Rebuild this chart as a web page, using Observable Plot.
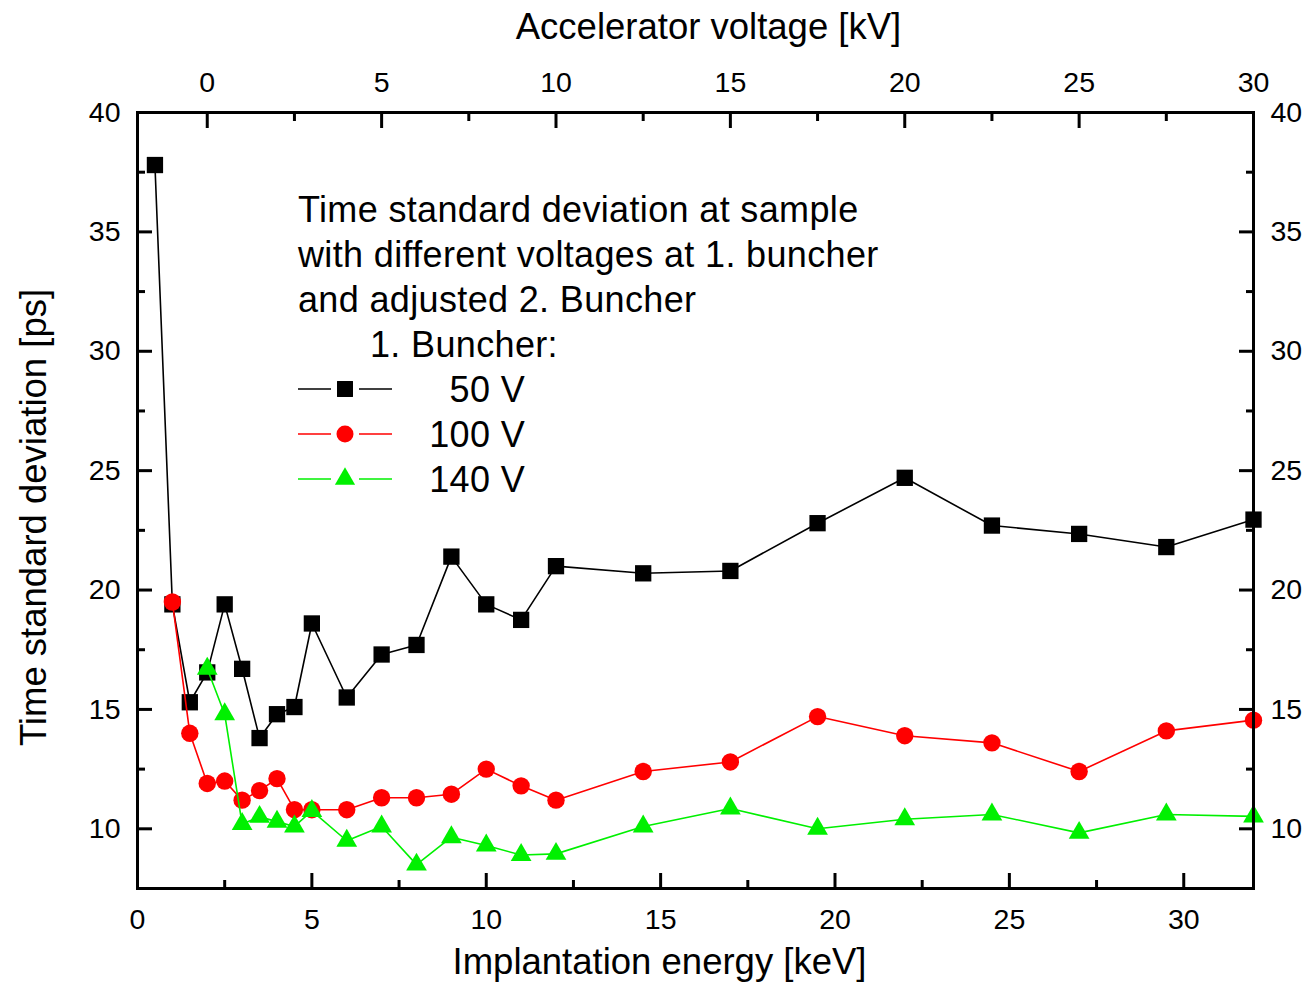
<!DOCTYPE html>
<html>
<head>
<meta charset="utf-8">
<script src="https://cdn.jsdelivr.net/npm/d3@7"></script>
<script src="https://cdn.jsdelivr.net/npm/@observablehq/plot@0.6"></script>
<style>
  html, body { margin: 0; padding: 0; background: #fff; }
  #chart svg { display: block; }
</style>
</head>
<body>
<div id="chart"></div>
<script>
// ---- Data ----
const energy50  = [0.5, 1, 1.5, 2, 2.5, 3, 3.5, 4, 4.5, 5, 6, 7, 8, 9, 10, 11, 12, 14.5, 17, 19.5, 22, 24.5, 27, 29.5, 32];
const sigma50   = [37.8, 19.4, 15.3, 16.55, 19.4, 16.7, 13.8, 14.8, 15.1, 18.6, 15.5, 17.3, 17.7, 21.4, 19.4, 18.75, 21.0, 20.7, 20.8, 22.8, 24.7, 22.7, 22.35, 21.8, 22.95];
const energy100 = [1, 1.5, 2, 2.5, 3, 3.5, 4, 4.5, 5, 6, 7, 8, 9, 10, 11, 12, 14.5, 17, 19.5, 22, 24.5, 27, 29.5, 32];
const sigma100  = [19.5, 14.0, 11.9, 12.0, 11.2, 11.6, 12.1, 10.8, 10.8, 10.8, 11.3, 11.3, 11.45, 12.5, 11.8, 11.2, 12.4, 12.8, 14.7, 13.9, 13.6, 12.4, 14.1, 14.55];
const energy140 = [2, 2.5, 3, 3.5, 4, 4.5, 5, 6, 7, 8, 9, 10, 11, 12, 14.5, 17, 19.5, 22, 24.5, 27, 29.5, 32];
const sigma140  = [16.7, 14.8, 10.2, 10.5, 10.3, 10.1, 10.75, 9.5, 10.1, 8.5, 9.65, 9.3, 8.9, 8.95, 10.1, 10.85, 10.0, 10.4, 10.6, 9.83, 10.6, 10.52];

const seriesLabels = ["50 V", "100 V", "140 V"];
const seriesColors = ["#000000", "#ff0000", "#00f000"];
const seriesSymbols = ["square", "circle", "triangle"];

const xMajorTicks = [0, 5, 10, 15, 20, 25, 30];
const xMinorTicks = [2.5, 7.5, 12.5, 17.5, 22.5, 27.5];
const voltageMajorTicks = [0, 5, 10, 15, 20, 25, 30];          // kV (top axis)
const voltageMinorTicks = [2.5, 7.5, 12.5, 17.5, 22.5, 27.5];  // kV
const voltageOffset = 2; // implantation energy [keV] = accelerator voltage [kV] + 2
const yMajorTicks = [10, 15, 20, 25, 30, 35, 40];
const yMinorTicks = [12.5, 17.5, 22.5, 27.5, 32.5, 37.5];

const xTitle = "Implantation energy [keV]";
const x2Title = "Accelerator voltage [kV]";
const yTitle = "Time standard deviation [ps]";
const legendTitle = ["Time standard deviation at sample", "with different voltages at 1. buncher", "and adjusted 2. Buncher"];
const legendHeader = "1. Buncher:";

// ---- Build tables ----
const toRows = (xs, ys) => xs.map((e, i) => ({e, s: ys[i]}));
const d50 = toRows(energy50, sigma50);
const d100 = toRows(energy100, sigma100);
const d140 = toRows(energy140, sigma140);

const FONT = "'Liberation Sans', Arial, Helvetica, sans-serif";
const blank = () => "";
const TITLE_SIZE = 36.5;

const chart = Plot.plot({
  width: 1305,
  height: 982,
  marginLeft: 137,
  marginRight: 52,
  marginTop: 112,
  marginBottom: 94,
  style: {fontFamily: FONT, fontSize: "28px", background: "#fff", color: "#000", overflow: "visible"},
  x: {domain: [0, 32], label: null},
  y: {domain: [7.5, 40], label: null},
  marks: [
    // bottom axis
    Plot.axisX(xMajorTicks, {anchor: "bottom", tickSize: 15, dy: -15, strokeWidth: 3, tickFormat: blank, label: null}),
    Plot.axisX(xMinorTicks, {anchor: "bottom", tickSize: 8, dy: -8, strokeWidth: 3, tickFormat: blank, label: null}),
    Plot.axisX(xMajorTicks, {anchor: "bottom", tickSize: 0, tickPadding: 20, fontSize: 28.5, label: null}),
    // top axis (accelerator voltage)
    Plot.axisX(voltageMajorTicks.map(v => v + voltageOffset), {anchor: "top", tickSize: 15, dy: 15, strokeWidth: 3, tickFormat: blank, label: null}),
    Plot.axisX(voltageMinorTicks.map(v => v + voltageOffset), {anchor: "top", tickSize: 8, dy: 8, strokeWidth: 3, tickFormat: blank, label: null}),
    Plot.axisX(voltageMajorTicks.map(v => v + voltageOffset), {anchor: "top", tickSize: 0, tickPadding: 21, fontSize: 28.5, label: null, tickFormat: d => String(d - voltageOffset)}),
    // left axis
    Plot.axisY(yMajorTicks, {anchor: "left", tickSize: 15, dx: 15, strokeWidth: 3, tickFormat: blank, label: null}),
    Plot.axisY(yMinorTicks, {anchor: "left", tickSize: 8, dx: 8, strokeWidth: 3, tickFormat: blank, label: null}),
    Plot.axisY(yMajorTicks, {anchor: "left", tickSize: 0, tickPadding: 17, fontSize: 28.5, label: null}),
    // right axis
    Plot.axisY(yMajorTicks, {anchor: "right", tickSize: 15, dx: -15, strokeWidth: 3, tickFormat: blank, label: null}),
    Plot.axisY(yMinorTicks, {anchor: "right", tickSize: 8, dx: -8, strokeWidth: 3, tickFormat: blank, label: null}),
    Plot.axisY(yMajorTicks, {anchor: "right", tickSize: 0, tickPadding: 17, fontSize: 28.5, label: null}),

    // series
    Plot.line(d50, {x: "e", y: "s", stroke: seriesColors[0], strokeWidth: 1.6}),
    Plot.dot(d50, {x: "e", y: "s", symbol: seriesSymbols[0], r: 9.2, fill: seriesColors[0]}),
    Plot.line(d100, {x: "e", y: "s", stroke: seriesColors[1], strokeWidth: 1.6}),
    Plot.dot(d100, {x: "e", y: "s", symbol: seriesSymbols[1], r: 8.7, fill: seriesColors[1]}),
    Plot.line(d140, {x: "e", y: "s", stroke: seriesColors[2], strokeWidth: 1.6}),
    Plot.dot(d140, {x: "e", y: "s", symbol: seriesSymbols[2], r: 7.7, fill: seriesColors[2]}),

    Plot.frame({stroke: "#000", strokeWidth: 3}),

    // axis titles
    Plot.text([xTitle], {frameAnchor: "bottom", textAnchor: "middle", lineAnchor: "middle", dx: -36, dy: 74, fontSize: TITLE_SIZE, fill: "#000"}),
    Plot.text([x2Title], {frameAnchor: "top", textAnchor: "middle", lineAnchor: "middle", dx: 13, dy: -85, fontSize: TITLE_SIZE, fill: "#000"}),
    Plot.text([yTitle], {frameAnchor: "left", textAnchor: "middle", lineAnchor: "middle", rotate: -90, dx: -103, dy: 17, fontSize: TITLE_SIZE, fill: "#000"})
  ]
});

document.getElementById("chart").appendChild(chart);

// ---- In-plot legend ----
const svg = d3.select(chart);
const lg = svg.append("g")
  .attr("font-family", FONT).attr("font-size", 36).attr("fill", "#000")
  .attr("text-anchor", "start").style("letter-spacing", "0.35px");
legendTitle.forEach((t, i) => {
  lg.append("text").attr("x", 298).attr("y", 222 + i * 45).attr("text-anchor", "start").text(t);
});
lg.append("text").attr("x", 370).attr("y", 357).attr("text-anchor", "start").text(legendHeader);
const symbolTypes = {square: d3.symbolSquare, circle: d3.symbolCircle, triangle: d3.symbolTriangle};
const symbolR = [9, 8.5, 7.5];
seriesLabels.forEach((label, i) => {
  const cy = 389 + i * 45;
  const row = lg.append("g");
  row.append("line").attr("x1", 298).attr("x2", 331).attr("y1", cy).attr("y2", cy)
    .attr("stroke", seriesColors[i]).attr("stroke-width", 1.6);
  row.append("line").attr("x1", 359).attr("x2", 392).attr("y1", cy).attr("y2", cy)
    .attr("stroke", seriesColors[i]).attr("stroke-width", 1.6);
  row.append("path")
    .attr("transform", `translate(345,${cy})`)
    .attr("d", d3.symbol(symbolTypes[seriesSymbols[i]], Math.PI * symbolR[i] * symbolR[i])())
    .attr("fill", seriesColors[i]);
  row.append("text").attr("x", 525).attr("y", cy + 13).attr("text-anchor", "end").text(label);
});
</script>
</body>
</html>
